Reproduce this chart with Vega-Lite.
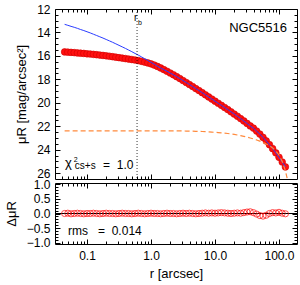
{
"$schema": "https://vega.github.io/schema/vega-lite/v6.json",
"width": 242, "height": 235,
"autosize": {"type": "none"},
"padding": {"left": 55, "top": 9, "right": 3, "bottom": 41},
"config": {"view": {"stroke": null}, "font": "Liberation Sans",
  "axis": {"grid": false, "domainColor": "#000", "tickColor": "#000", "labelColor": "#000", "titleColor": "#000", "labelFontSize": 12, "titleFontSize": 13, "titleFontWeight": "normal", "labelFont": "Liberation Sans", "titleFont": "Liberation Sans", "labelFlush": false, "labelOverlap": false, "tickWidth": 1, "domainWidth": 1}},
"data": {"values": [
{"r":0.04467,"mu":15.66,"model":13.31,"disk":22.40,"res":0.00},
{"r":0.05012,"mu":15.68,"model":13.39,"disk":22.40,"res":0.01},
{"r":0.05623,"mu":15.70,"model":13.48,"disk":22.40,"res":-0.01},
{"r":0.0631,"mu":15.72,"model":13.56,"disk":22.40,"res":0.00},
{"r":0.07079,"mu":15.75,"model":13.65,"disk":22.40,"res":0.01},
{"r":0.07943,"mu":15.77,"model":13.75,"disk":22.40,"res":0.00},
{"r":0.08913,"mu":15.79,"model":13.84,"disk":22.40,"res":-0.01},
{"r":0.1,"mu":15.82,"model":13.94,"disk":22.40,"res":0.00},
{"r":0.1122,"mu":15.84,"model":14.04,"disk":22.40,"res":0.00},
{"r":0.1259,"mu":15.87,"model":14.15,"disk":22.40,"res":0.01},
{"r":0.1413,"mu":15.90,"model":14.26,"disk":22.40,"res":0.00},
{"r":0.1585,"mu":15.93,"model":14.37,"disk":22.40,"res":-0.01},
{"r":0.1778,"mu":15.96,"model":14.48,"disk":22.40,"res":0.00},
{"r":0.1995,"mu":15.99,"model":14.60,"disk":22.40,"res":0.01},
{"r":0.2239,"mu":16.03,"model":14.72,"disk":22.40,"res":0.00},
{"r":0.2512,"mu":16.07,"model":14.84,"disk":22.40,"res":0.00},
{"r":0.2818,"mu":16.11,"model":14.97,"disk":22.40,"res":-0.01},
{"r":0.3162,"mu":16.15,"model":15.10,"disk":22.40,"res":0.00},
{"r":0.3548,"mu":16.19,"model":15.23,"disk":22.40,"res":0.01},
{"r":0.3981,"mu":16.23,"model":15.36,"disk":22.40,"res":0.00},
{"r":0.4467,"mu":16.27,"model":15.50,"disk":22.40,"res":0.00},
{"r":0.5012,"mu":16.31,"model":15.64,"disk":22.40,"res":-0.01},
{"r":0.5623,"mu":16.35,"model":15.79,"disk":22.40,"res":0.00},
{"r":0.631,"mu":16.40,"model":15.93,"disk":22.40,"res":0.01},
{"r":0.7079,"mu":16.46,"model":16.08,"disk":22.40,"res":0.00},
{"r":0.7943,"mu":16.53,"model":16.24,"disk":22.40,"res":-0.01},
{"r":0.8913,"mu":16.60,"model":16.39,"disk":22.40,"res":0.00},
{"r":1.0,"mu":16.68,"model":16.55,"disk":22.40,"res":0.01},
{"r":1.122,"mu":16.78,"model":16.71,"disk":22.40,"res":0.00},
{"r":1.259,"mu":16.90,"model":16.88,"disk":22.40,"res":0.00},
{"r":1.413,"mu":17.03,"model":17.03,"disk":22.40,"res":-0.01},
{"r":1.585,"mu":17.17,"model":17.17,"disk":22.40,"res":0.00},
{"r":1.778,"mu":17.31,"model":17.31,"disk":22.40,"res":0.01},
{"r":1.995,"mu":17.46,"model":17.46,"disk":22.40,"res":0.00},
{"r":2.239,"mu":17.61,"model":17.61,"disk":22.40,"res":0.00},
{"r":2.512,"mu":17.77,"model":17.77,"disk":22.40,"res":-0.01},
{"r":2.818,"mu":17.93,"model":17.93,"disk":22.40,"res":0.00},
{"r":3.162,"mu":18.10,"model":18.10,"disk":22.40,"res":0.01},
{"r":3.548,"mu":18.27,"model":18.27,"disk":22.41,"res":0.00},
{"r":3.981,"mu":18.44,"model":18.44,"disk":22.41,"res":0.01},
{"r":4.467,"mu":18.61,"model":18.61,"disk":22.42,"res":0.00},
{"r":5.012,"mu":18.79,"model":18.79,"disk":22.43,"res":-0.01},
{"r":5.623,"mu":18.96,"model":18.96,"disk":22.44,"res":0.00},
{"r":6.31,"mu":19.14,"model":19.14,"disk":22.45,"res":0.01},
{"r":7.079,"mu":19.32,"model":19.32,"disk":22.46,"res":0.02},
{"r":7.943,"mu":19.50,"model":19.50,"disk":22.48,"res":0.01},
{"r":8.913,"mu":19.68,"model":19.68,"disk":22.50,"res":0.02},
{"r":10.0,"mu":19.86,"model":19.86,"disk":22.52,"res":0.01},
{"r":11.22,"mu":20.04,"model":20.04,"disk":22.54,"res":0.02},
{"r":12.59,"mu":20.22,"model":20.22,"disk":22.56,"res":0.03},
{"r":14.13,"mu":20.40,"model":20.40,"disk":22.59,"res":0.02},
{"r":15.85,"mu":20.58,"model":20.58,"disk":22.62,"res":0.01},
{"r":17.78,"mu":20.77,"model":20.77,"disk":22.66,"res":0.00},
{"r":19.95,"mu":20.96,"model":20.96,"disk":22.70,"res":0.01},
{"r":22.39,"mu":21.15,"model":21.15,"disk":22.75,"res":0.02},
{"r":25.12,"mu":21.35,"model":21.35,"disk":22.80,"res":0.01},
{"r":28.18,"mu":21.55,"model":21.55,"disk":22.86,"res":0.03},
{"r":31.62,"mu":21.76,"model":21.76,"disk":22.93,"res":0.05},
{"r":35.48,"mu":21.97,"model":21.97,"disk":23.00,"res":0.06},
{"r":39.81,"mu":22.16,"model":22.17,"disk":23.08,"res":0.03},
{"r":44.67,"mu":22.41,"model":22.42,"disk":23.17,"res":-0.02},
{"r":50.12,"mu":22.67,"model":22.67,"disk":23.27,"res":-0.07},
{"r":56.23,"mu":22.95,"model":22.95,"disk":23.38,"res":-0.09},
{"r":63.1,"mu":23.25,"model":23.25,"disk":23.51,"res":-0.06},
{"r":70.79,"mu":23.57,"model":23.57,"disk":23.66,"res":0.00},
{"r":79.43,"mu":23.91,"model":23.91,"disk":23.85,"res":0.03},
{"r":89.13,"mu":24.27,"model":24.27,"disk":24.10,"res":0.02},
{"r":100.0,"mu":24.65,"model":24.65,"disk":24.45,"res":0.04},
{"r":112.2,"mu":25.05,"model":25.05,"disk":25.00,"res":0.01},
{"r":125.9,"mu":25.47,"model":25.47,"disk":25.80,"res":-0.01},
{"r":134.9,"mu":null,"model":null,"disk":26.5,"res":null}
]},
"layer": [
 {
  "layer": [
   {"mark": {"type": "point", "shape": "circle", "filled": true, "fill": "#ff1010", "stroke": "#d00000", "strokeWidth": 0.6, "size": 45, "opacity": 1},
    "encoding": {
     "x": {"field": "r", "type": "quantitative", "scale": {"type": "log", "domain": [0.0316, 191], "nice": false},
       "axis": {"orient": "top", "title": null, "labels": false, "values": [0.04,0.05,0.06,0.07,0.08,0.09,0.1,0.2,0.3,0.4,0.5,0.6,0.7,0.8,0.9,1,2,3,4,5,6,7,8,9,10,20,30,40,50,60,70,80,90,100],
         "tickSize": {"condition": {"test": "abs(log(datum.value)/LN10-round(log(datum.value)/LN10))<0.001", "value": -5}, "value": -3}}},
     "y": {"field": "mu", "type": "quantitative", "scale": {"domain": [12, 26.5], "range": [0, 170], "nice": false, "zero": false},
       "axis": {"orient": "left", "title": "μR [mag/arcsec²]", "titlePadding": 8, "labelPadding": 10,
         "values": [12,12.5,13,13.5,14,14.5,15,15.5,16,16.5,17,17.5,18,18.5,19,19.5,20,20.5,21,21.5,22,22.5,23,23.5,24,24.5,25,25.5,26],
         "labelExpr": "datum.value%2==0?format(datum.value,'d'):''",
         "tickSize": {"condition": {"test": "datum.value%2==0", "value": -5}, "value": -3}}}
    }},
   {"mark": {"type": "line", "color": "#2a3cff", "strokeWidth": 1},
    "encoding": {
     "x": {"field": "r", "type": "quantitative", "scale": {"type": "log", "domain": [0.0316, 191], "nice": false},
       "axis": {"orient": "bottom", "offset": -65, "title": null, "labels": false, "values": [0.04,0.05,0.06,0.07,0.08,0.09,0.1,0.2,0.3,0.4,0.5,0.6,0.7,0.8,0.9,1,2,3,4,5,6,7,8,9,10,20,30,40,50,60,70,80,90,100],
         "tickSize": {"condition": {"test": "abs(log(datum.value)/LN10-round(log(datum.value)/LN10))<0.001", "value": -5}, "value": -3}}},
     "y": {"field": "model", "type": "quantitative", "scale": {"domain": [12, 26.5], "range": [0, 170], "nice": false, "zero": false},
       "axis": {"orient": "right", "title": null, "labels": false,
         "values": [12,12.5,13,13.5,14,14.5,15,15.5,16,16.5,17,17.5,18,18.5,19,19.5,20,20.5,21,21.5,22,22.5,23,23.5,24,24.5,25,25.5,26],
         "tickSize": {"condition": {"test": "datum.value%2==0", "value": -5}, "value": -3}}}
    }},
   {"mark": {"type": "line", "color": "#ff8a3d", "strokeWidth": 1.2, "strokeDash": [5, 3]},
    "encoding": {
     "x": {"field": "r", "type": "quantitative", "scale": {"type": "log", "domain": [0.0316, 191], "nice": false}, "axis": null},
     "y": {"field": "disk", "type": "quantitative", "scale": {"domain": [12, 26.5], "range": [0, 170], "nice": false, "zero": false}, "axis": null}
    }},
   {"data": {"values": [{}]},
    "mark": {"type": "rule", "color": "#000", "strokeWidth": 0.8, "strokeDash": [1, 2]},
    "encoding": {
     "x": {"datum": 0.605, "type": "quantitative", "scale": {"type": "log", "domain": [0.0316, 191], "nice": false}, "axis": null},
     "y": {"datum": 12, "type": "quantitative", "scale": {"domain": [12, 26.5], "range": [0, 170], "nice": false, "zero": false}, "axis": null},
     "y2": {"datum": 26.5}
    }},
   {"data": {"values": [{}]},
    "mark": {"type": "text", "text": "NGC5516", "align": "right", "baseline": "alphabetic", "fontSize": 13, "color": "#000"},
    "encoding": {
     "x": {"datum": 133.4, "type": "quantitative", "axis": null},
     "y": {"datum": 13.97, "type": "quantitative", "axis": null}}},
   {"data": {"values": [{}]},
    "mark": {"type": "text", "text": "r", "align": "center", "baseline": "alphabetic", "fontSize": 10, "color": "#000"},
    "encoding": {
     "x": {"datum": 0.577, "type": "quantitative", "axis": null},
     "y": {"datum": 13.03, "type": "quantitative", "axis": null}}},
   {"data": {"values": [{}]},
    "mark": {"type": "text", "text": "b", "align": "center", "baseline": "alphabetic", "fontSize": 7, "color": "#000"},
    "encoding": {
     "x": {"datum": 0.673, "type": "quantitative", "axis": null},
     "y": {"datum": 13.34, "type": "quantitative", "axis": null}}},
   {"data": {"values": [{}]},
    "mark": {"type": "text", "text": "χ", "align": "left", "baseline": "alphabetic", "fontSize": 13, "color": "#000"},
    "encoding": {
     "x": {"datum": 0.0453, "type": "quantitative", "axis": null},
     "y": {"datum": 25.46, "type": "quantitative", "axis": null}}},
   {"data": {"values": [{}]},
    "mark": {"type": "text", "text": "2", "align": "left", "baseline": "alphabetic", "fontSize": 7, "color": "#000"},
    "encoding": {
     "x": {"datum": 0.0618, "type": "quantitative", "axis": null},
     "y": {"datum": 25.08, "type": "quantitative", "axis": null}}},
   {"data": {"values": [{}]},
    "mark": {"type": "text", "text": "cs+s", "align": "left", "baseline": "alphabetic", "fontSize": 10, "color": "#000"},
    "encoding": {
     "x": {"datum": 0.0645, "type": "quantitative", "axis": null},
     "y": {"datum": 25.62, "type": "quantitative", "axis": null}}},
   {"data": {"values": [{}]},
    "mark": {"type": "text", "text": "=\u00a0\u00a01.0", "align": "left", "baseline": "alphabetic", "fontSize": 12, "color": "#000"},
    "encoding": {
     "x": {"datum": 0.178, "type": "quantitative", "axis": null},
     "y": {"datum": 25.62, "type": "quantitative", "axis": null}}}
  ],
  "resolve": {"axis": {"x": "independent", "y": "independent"}}
 },
 {
  "layer": [
   {"data": {"values": [{}]},
    "mark": {"type": "rule", "color": "#000", "strokeWidth": 1},
    "encoding": {
     "y": {"datum": 0, "type": "quantitative", "scale": {"domain": [-1.05, 1.05], "range": [235, 174], "nice": false, "zero": false}, "axis": null}
    }},
   {"mark": {"type": "point", "shape": "circle", "filled": false, "color": "#ff0000", "strokeWidth": 1, "size": 38},
    "encoding": {
     "x": {"field": "r", "type": "quantitative", "scale": {"type": "log", "domain": [0.0316, 191], "nice": false},
       "axis": {"orient": "bottom", "title": "r [arcsec]", "titlePadding": 4, "labelPadding": 11, "values": [0.04,0.05,0.06,0.07,0.08,0.09,0.1,0.2,0.3,0.4,0.5,0.6,0.7,0.8,0.9,1,2,3,4,5,6,7,8,9,10,20,30,40,50,60,70,80,90,100],
         "labelExpr": "datum.value==0.1?'0.1':datum.value==1?'1.0':datum.value==10?'10.0':datum.value==100?'100.0':''",
         "tickSize": {"condition": {"test": "abs(log(datum.value)/LN10-round(log(datum.value)/LN10))<0.001", "value": -5}, "value": -3}}},
     "y": {"field": "res", "type": "quantitative", "scale": {"domain": [-1.05, 1.05], "range": [235, 174], "nice": false, "zero": false},
       "axis": {"orient": "left", "title": "ΔμR", "titlePadding": 8, "labelPadding": 10,
         "values": [-1,-0.9,-0.8,-0.7,-0.6,-0.5,-0.4,-0.3,-0.2,-0.1,0,0.1,0.2,0.3,0.4,0.5,0.6,0.7,0.8,0.9,1],
         "labelExpr": "abs(datum.value*2-round(datum.value*2))<0.001?format(datum.value,'.1f'):''",
         "tickSize": {"condition": {"test": "abs(datum.value*2-round(datum.value*2))<0.001", "value": -5}, "value": -3}}}
    }},
   {"data": {"values": [{}]},
    "mark": {"type": "text", "text": "rms\u00a0\u00a0\u00a0=\u00a0\u00a00.014", "align": "left", "baseline": "alphabetic", "fontSize": 12, "color": "#000"},
    "encoding": {
     "x": {"datum": 0.0505, "type": "quantitative", "scale": {"type": "log", "domain": [0.0316, 191], "nice": false},
       "axis": {"orient": "top", "offset": -174, "title": null, "labels": false, "values": [0.04,0.05,0.06,0.07,0.08,0.09,0.1,0.2,0.3,0.4,0.5,0.6,0.7,0.8,0.9,1,2,3,4,5,6,7,8,9,10,20,30,40,50,60,70,80,90,100],
         "tickSize": {"condition": {"test": "abs(log(datum.value)/LN10-round(log(datum.value)/LN10))<0.001", "value": -5}, "value": -3}}},
     "y": {"datum": -0.74, "type": "quantitative", "scale": {"domain": [-1.05, 1.05], "range": [235, 174], "nice": false, "zero": false},
       "axis": {"orient": "right", "title": null, "labels": false,
         "values": [-1,-0.9,-0.8,-0.7,-0.6,-0.5,-0.4,-0.3,-0.2,-0.1,0,0.1,0.2,0.3,0.4,0.5,0.6,0.7,0.8,0.9,1],
         "tickSize": {"condition": {"test": "abs(datum.value*2-round(datum.value*2))<0.001", "value": -5}, "value": -3}}}
    }}
  ],
  "resolve": {"axis": {"x": "independent", "y": "independent"}}
 }
],
"resolve": {"scale": {"y": "independent"}, "axis": {"x": "independent"}}
}
